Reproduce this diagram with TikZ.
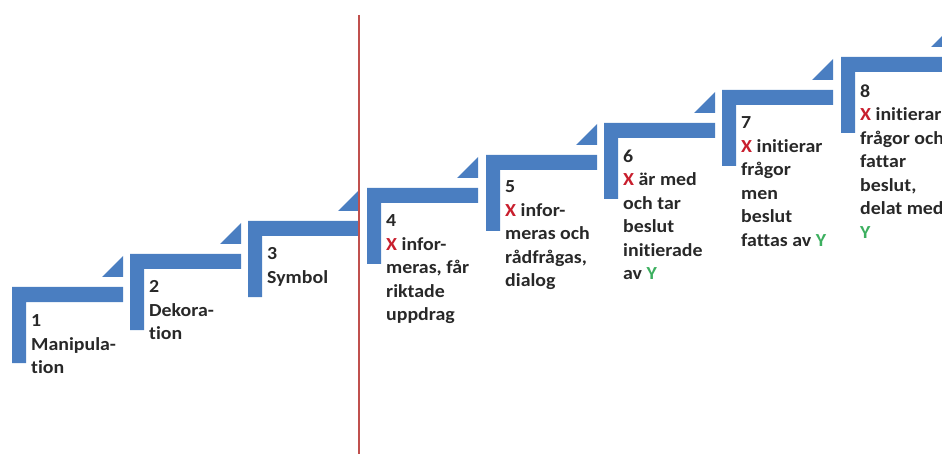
\documentclass[tikz,border=0pt]{standalone}
\usepackage{fontspec}
\setmainfont[Ligatures=NoCommon,FakeStretch=1.08]{Carlito}
\definecolor{stepblue}{RGB}{74,126,193}
\definecolor{linered}{RGB}{192,80,77}
\definecolor{xred}{RGB}{200,30,45}
\definecolor{ygreen}{RGB}{60,175,95}
\definecolor{txtgray}{RGB}{40,40,40}
\newcommand{\xmark}{\textcolor{xred}{X}}
\newcommand{\ymark}{\textcolor{ygreen}{Y}}

\begin{document}
\begin{tikzpicture}[x=1pt,y=-1pt,
        stepup/.pic={
            \fill[stepblue] (0,0) -- (111,0) -- (111,15) -- (14,15) -- (14,76) -- (0,76) -- cycle;
            \fill[stepblue] (90,-10) -- (111,-10) -- (111,-31) -- cycle;
        },
        steptext/.style={anchor=north west,align=left,inner sep=0pt,text=txtgray,
            font=\fontsize{18.4}{23.5}\selectfont\bfseries}]
                \useasboundingbox (0,0) rectangle (942,454);
                \clip (0,0) rectangle (942,454);
                % steps
                \pic at (12,287) {stepup};
                \pic at (130,254) {stepup};
                \pic at (248,221) {stepup};
                \pic at (367,188) {stepup};
                \pic at (486,155) {stepup};
                \pic at (604,123) {stepup};
                \pic at (722,90) {stepup};
                \pic at (841,57) {stepup};
                % divider
                \draw[linered,line width=2.8pt] (359,15) -- (359,454);
                % texts (top of first line, digit height about 11.5)
                \node[steptext] (t_1) at (31,314.5) {1\\Manipula-\\tion};
                \node[steptext] (t_2) at (149,280.5) {2\\Dekora-\\tion};
                \node[steptext] (t_3) at (267,247.5) {3\\Symbol};
                \node[steptext] (t_4) at (386,214.5) {4\\\xmark{} infor-\\meras, får\\riktade\\uppdrag};
                \node[steptext] (t_5) at (505,180.5) {5\\\xmark{} infor-\\meras och\\rådfrågas,\\dialog};
                \node[steptext] (t_6) at (623,149.5) {6\\\xmark{} är med\\och tar\\beslut\\initierade\\av \ymark};
                \node[steptext] (t_7) at (741,116.5) {7\\\xmark{} initierar\\frågor\\men\\beslut\\fattas av \ymark};
                \node[steptext] (t_8) at (860,84.5) {8\\\xmark{} initierar\\frågor och\\fattar\\beslut,\\delat med\\\ymark};
            \end{tikzpicture}
\end{document}
